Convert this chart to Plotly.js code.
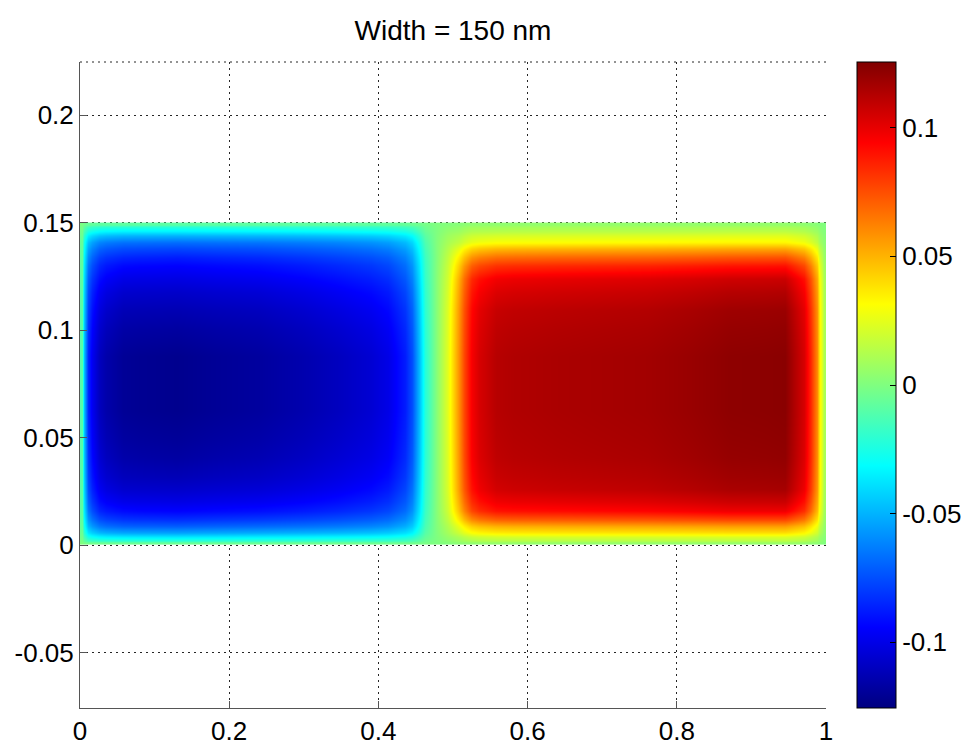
<!DOCTYPE html>
<html>
<head>
<meta charset="utf-8">
<script src="https://cdn.plot.ly/plotly-3.0.1.min.js"></script>
<style>html,body{margin:0;padding:0;background:#fff}#chart{width:965px;height:749px}</style>
</head>
<body>
<div id="chart"></div>
<script>
// Cell edges of the sampled grid (x: 22 columns, y: 14 rows)
const xEdges = [0, 0.006, 0.016, 0.035, 0.08, 0.18, 0.3, 0.39, 0.435, 0.455, 0.47, 0.485, 0.5, 0.515, 0.535, 0.58, 0.7, 0.82, 0.92, 0.97, 0.988, 0.995, 1];
const yEdges = [0, 0.002, 0.006, 0.012, 0.02, 0.032, 0.05, 0.075, 0.1, 0.118, 0.13, 0.138, 0.144, 0.148, 0.15];

// Field values, one row per y cell (bottom to top)
const row01 = [-0.000,-0.003,-0.004,-0.005,-0.005,-0.005,-0.004,-0.004,-0.003,-0.001,0.000,0.001,0.003,0.004,0.005,0.005,0.005,0.005,0.006,0.004,0.002,0.000];
const row02 = [-0.003,-0.026,-0.033,-0.036,-0.037,-0.035,-0.033,-0.030,-0.023,-0.007,0.000,0.006,0.011,0.018,0.021,0.022,0.022,0.023,0.023,0.016,0.007,0.002];
const row03 = [-0.006,-0.049,-0.064,-0.070,-0.071,-0.068,-0.064,-0.058,-0.044,-0.013,0.001,0.012,0.026,0.043,0.050,0.052,0.053,0.055,0.055,0.038,0.016,0.005];
const row04 = [-0.008,-0.065,-0.085,-0.092,-0.094,-0.091,-0.085,-0.077,-0.058,-0.017,0.002,0.019,0.046,0.077,0.090,0.092,0.094,0.098,0.098,0.068,0.028,0.008];
const row05 = [-0.009,-0.075,-0.097,-0.106,-0.107,-0.104,-0.097,-0.088,-0.066,-0.019,0.002,0.022,0.055,0.090,0.105,0.108,0.110,0.115,0.116,0.080,0.033,0.009];
const row06 = [-0.010,-0.081,-0.105,-0.115,-0.117,-0.113,-0.105,-0.096,-0.072,-0.021,0.002,0.023,0.057,0.095,0.110,0.113,0.115,0.120,0.121,0.084,0.034,0.010];
const row07 = [-0.010,-0.085,-0.110,-0.120,-0.122,-0.118,-0.110,-0.100,-0.075,-0.022,0.002,0.024,0.058,0.096,0.112,0.115,0.117,0.122,0.123,0.085,0.035,0.010];
const row08 = [-0.010,-0.085,-0.110,-0.120,-0.122,-0.118,-0.110,-0.100,-0.075,-0.022,0.002,0.024,0.058,0.096,0.112,0.115,0.117,0.122,0.123,0.085,0.035,0.010];
const row09 = [-0.009,-0.079,-0.102,-0.112,-0.113,-0.110,-0.102,-0.093,-0.070,-0.020,0.002,0.023,0.056,0.093,0.108,0.111,0.113,0.118,0.119,0.082,0.034,0.010];
const row10 = [-0.008,-0.071,-0.091,-0.100,-0.101,-0.098,-0.091,-0.083,-0.062,-0.018,0.002,0.020,0.050,0.084,0.097,0.100,0.102,0.106,0.107,0.074,0.030,0.009];
const row11 = [-0.007,-0.060,-0.078,-0.085,-0.087,-0.084,-0.078,-0.071,-0.053,-0.016,0.001,0.016,0.035,0.058,0.067,0.069,0.070,0.073,0.074,0.051,0.021,0.006];
const row12 = [-0.006,-0.047,-0.061,-0.066,-0.067,-0.065,-0.061,-0.055,-0.041,-0.012,0.001,0.010,0.016,0.026,0.030,0.031,0.032,0.033,0.033,0.023,0.009,0.003];
const row13 = [-0.003,-0.024,-0.031,-0.034,-0.034,-0.033,-0.031,-0.028,-0.021,-0.006,0.000,0.005,0.007,0.012,0.013,0.014,0.014,0.015,0.015,0.010,0.004,0.001];
const row14 = [-0.001,-0.006,-0.008,-0.008,-0.009,-0.008,-0.008,-0.007,-0.005,-0.002,0.000,0.001,0.002,0.004,0.004,0.005,0.005,0.005,0.005,0.003,0.001,0.000];
const zRows = [row01,row02,row03,row04,row05,row06,row07,row08,row09,row10,row11,row12,row13,row14];

const xTickVals = [0, 0.2, 0.4, 0.6, 0.8, 1];
const xTickText = ['0', '0.2', '0.4', '0.6', '0.8', '1'];
const yTickVals = [-0.05, 0, 0.05, 0.1, 0.15, 0.2];
const yTickText = ['-0.05', '0', '0.05', '0.1', '0.15', '0.2'];
const cTickVals = [-0.1, -0.05, 0, 0.05, 0.1];
const cTickText = ['-0.1', '-0.05', '0', '0.05', '0.1'];

const jet = [
  [0, 'rgb(0,0,128)'],
  [0.125, 'rgb(0,0,255)'],
  [0.375, 'rgb(0,255,255)'],
  [0.625, 'rgb(255,255,0)'],
  [0.875, 'rgb(255,0,0)'],
  [1, 'rgb(128,0,0)']
];

const FONT = '"Liberation Sans", Arial, Helvetica, sans-serif';
const GRID = 'rgba(0,0,0,0.85)';

const trace = {
  type: 'heatmap',
  x: xEdges,
  y: yEdges,
  z: zRows,
  zsmooth: 'best',
  colorscale: jet,
  zmin: -0.1255,
  zmax: 0.1255,
  hoverinfo: 'skip',
  colorbar: {
    thickness: 39, thicknessmode: 'pixels',
    len: 1, lenmode: 'fraction',
    x: 1.0416, xanchor: 'left', xref: 'paper',
    y: 0.5, yanchor: 'middle', yref: 'paper',
    xpad: 0, ypad: 0,
    outlinewidth: 1, outlinecolor: '#000',
    ticks: 'inside', ticklen: 6, tickcolor: '#000', tickwidth: 1,
    tickvals: cTickVals, ticktext: cTickText,
    tickfont: {family: FONT, size: 26, color: '#000'}
  }
};

const layout = {
  width: 965, height: 749,
  margin: {l: 80, r: 139, t: 62, b: 41, pad: 0, autoexpand: false},
  paper_bgcolor: '#fff', plot_bgcolor: '#fff',
  font: {family: FONT, size: 26, color: '#000'},
  title: {
    text: 'Width = 150 nm',
    font: {family: FONT, size: 28, color: '#000'},
    x: 0.5, xref: 'paper', xanchor: 'center',
    y: 0.96, yref: 'container', yanchor: 'middle'
  },
  xaxis: {
    range: [0, 1], tickvals: xTickVals, ticktext: xTickText,
    showgrid: true, gridcolor: GRID, griddash: '2px,4px', gridwidth: 1,
    showline: true, linecolor: '#555', linewidth: 1,
    ticks: 'inside', ticklen: 7, tickcolor: '#555',
    zeroline: false, automargin: false, tickfont: {family: FONT, size: 26, color: '#000'}
  },
  yaxis: {
    range: [-0.0758, 0.2247], tickvals: yTickVals, ticktext: yTickText,
    showgrid: true, gridcolor: GRID, griddash: '2px,4px', gridwidth: 1,
    showline: true, linecolor: '#555', linewidth: 1,
    ticks: 'inside', ticklen: 7, tickcolor: '#555',
    zeroline: false, automargin: false, tickfont: {family: FONT, size: 26, color: '#000'}
  },
  shapes: [
    {type: 'line', xref: 'paper', yref: 'paper', x0: 0, x1: 1, y0: 1, y1: 1,
     line: {color: GRID, width: 1, dash: '2px,4px'}, layer: 'below'}
  ]
};

Plotly.newPlot('chart', [trace], layout, {displayModeBar: false, staticPlot: true});
</script>
</body>
</html>
